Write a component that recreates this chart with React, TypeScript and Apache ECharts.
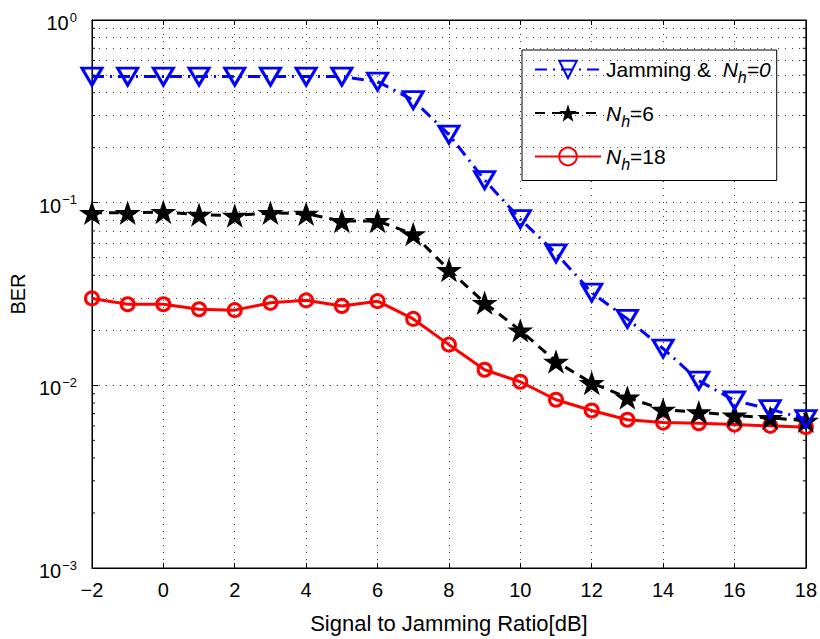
import React, { useEffect, useRef } from "react";
import * as echarts from "echarts";

const sjr = [-2, -1, 0, 1, 2, 3, 4, 5, 6, 7, 8, 9, 10, 11, 12, 13, 14, 15, 16, 17, 18];
const berJam = [0.49, 0.49, 0.49, 0.49, 0.49, 0.49, 0.49, 0.49, 0.46, 0.364, 0.236, 0.133, 0.0813, 0.0528, 0.0322, 0.0231, 0.0159, 0.0106, 0.00826, 0.0074, 0.00654];
const berN6 = [0.088, 0.088, 0.089, 0.086, 0.085, 0.088, 0.087, 0.0794, 0.0794, 0.0673, 0.0428, 0.0283, 0.02, 0.0135, 0.0103, 0.00858, 0.00737, 0.00713, 0.00684, 0.00664, 0.0064];
const berN18 = [0.0299, 0.0278, 0.0278, 0.0261, 0.0258, 0.0283, 0.0292, 0.0272, 0.0289, 0.0231, 0.0167, 0.01217, 0.01046, 0.00834, 0.00728, 0.00648, 0.00625, 0.0062, 0.0061, 0.006, 0.0059];
const minorGrid = [0.002, 0.003, 0.004, 0.005, 0.006, 0.007, 0.008, 0.009, 0.02, 0.03, 0.04, 0.05, 0.06, 0.07, 0.08, 0.09, 0.2, 0.3, 0.4, 0.5, 0.6, 0.7, 0.8, 0.9];
const names = ["Jamming & N_h=0", "N_h=6", "N_h=18"];
const legendText: Record<string, string> = {
  "Jamming & N_h=0": "Jamming &  {i|N}{sub|h}{i|=0}",
  "N_h=6": "{i|N}{sub|h}=6",
  "N_h=18": "{i|N}{sub|h}=18",
};

const STAR = "path://M50,0 L61.8,35.1 L98.9,35.1 L68.9,56.9 L80.3,91.9 L50,70.2 L19.7,91.9 L31.1,56.9 L1.1,35.1 L38.2,35.1 Z";
const FONT = "Liberation Sans, Arial, Helvetica, sans-serif";
const X_MIN = -2;
const X_MAX = 18;

export default function App() {
  const ref = useRef<HTMLDivElement>(null);
  useEffect(() => {
    const chart = echarts.init(ref.current!, null, { renderer: "svg" });
    const pair = (ys: number[]) => sjr.map((x, i) => [x, ys[i]]);
    const supFmt = (v: number) => {
      const e = Math.round(Math.log10(v));
      return `{b|10}{sup|${String(e).replace("-", "\u2212")}}`;
    };
    const gridDots = { color: "#333", type: [1, 6], width: 1 };
    chart.setOption({
      animation: false,
      backgroundColor: "#fff",
      textStyle: { fontFamily: FONT },
      grid: { left: 91, right: 14, top: 20, bottom: 60, show: true, borderColor: "#000", borderWidth: 1, backgroundColor: "#fff" },
      legend: {
        orient: "vertical",
        left: 522,
        top: 50,
        data: names,
        backgroundColor: "#fff",
        borderColor: "#000",
        borderWidth: 1,
        borderRadius: 0,
        padding: [9, 6, 8, 12],
        itemWidth: 66,
        itemHeight: 22,
        itemGap: 17,
        formatter: (n: string) => legendText[n],
        textStyle: {
          fontFamily: FONT,
          fontSize: 21,
          color: "#000",
          rich: {
            i: { fontStyle: "italic", fontSize: 21, fontFamily: FONT },
            sub: { fontStyle: "italic", fontSize: 16, fontFamily: FONT, padding: [16, 0, 0, 0] },
          },
        },
      },
      xAxis: [
        {
          type: "value",
          min: X_MIN,
          max: X_MAX,
          interval: 2,
          name: "Signal to Jamming Ratio[dB]",
          nameLocation: "middle",
          nameGap: 44,
          nameTextStyle: { fontSize: 22, color: "#000", fontFamily: FONT },
          axisLine: { show: true, onZero: false, lineStyle: { color: "#000", width: 1 } },
          axisTick: { inside: true, length: 5, lineStyle: { color: "#000" } },
          axisLabel: {
            fontSize: 20,
            color: "#000",
            margin: 12,
            fontFamily: FONT,
            formatter: (v: number) => String(v).replace("-", "\u2212"),
          },
          splitLine: { show: true, lineStyle: gridDots },
        },
        {
          type: "value",
          position: "top",
          min: X_MIN,
          max: X_MAX,
          interval: 2,
          axisLine: { show: true, onZero: false, lineStyle: { color: "#000" } },
          axisTick: { inside: true, length: 5, lineStyle: { color: "#000" } },
          axisLabel: { show: false },
          splitLine: { show: false },
        },
      ],
      yAxis: [
        {
          type: "log",
          logBase: 10,
          min: 0.001,
          max: 1,
          name: "BER",
          nameLocation: "middle",
          nameGap: 63,
          nameTextStyle: { fontSize: 20, color: "#000", fontFamily: FONT },
          axisLine: { show: true, onZero: false, lineStyle: { color: "#000" } },
          axisTick: { inside: true, length: 6, lineStyle: { color: "#000" } },
          axisLabel: {
            color: "#000",
            margin: 15,
            fontFamily: FONT,
            formatter: supFmt,
            rich: {
              b: { fontSize: 20, fontFamily: FONT, color: "#000", padding: [6, 0, 0, 0] },
              sup: { fontSize: 13, padding: [0, 0, 6, 1], fontFamily: FONT, color: "#000" },
            },
          },
          splitLine: { show: true, lineStyle: gridDots },
        },
        {
          type: "log",
          logBase: 10,
          min: 0.001,
          max: 1,
          position: "right",
          axisLine: { show: true, onZero: false, lineStyle: { color: "#000" } },
          axisTick: { inside: true, length: 6, lineStyle: { color: "#000" } },
          axisLabel: { show: false },
          splitLine: { show: false },
        },
      ],
      series: [
        {
          name: "minor",
          type: "line",
          data: [],
          silent: true,
          z: 1,
          markLine: {
            silent: true,
            symbol: "none",
            label: { show: false },
            lineStyle: gridDots,
            data: minorGrid.map((v) => ({ yAxis: v })),
          },
        },
        {
          name: "minorTicks",
          type: "custom",
          silent: true,
          z: 1,
          data: minorGrid.map((v) => [X_MIN, v]),
          renderItem: (_p: any, api: any) => {
            const v = api.value(1);
            const l = api.coord([X_MIN, v]);
            const r = api.coord([X_MAX, v]);
            const st = { stroke: "#000", lineWidth: 1 };
            return {
              type: "group",
              children: [
                { type: "line", shape: { x1: l[0], y1: l[1], x2: l[0] + 3, y2: l[1] }, style: st },
                { type: "line", shape: { x1: r[0] - 3, y1: r[1], x2: r[0], y2: r[1] }, style: st },
              ],
            };
          },
        },
        {
          name: names[0],
          type: "line",
          data: pair(berJam),
          z: 4,
          symbol: "triangle",
          symbolRotate: 180,
          symbolSize: [20, 17],
          showAllSymbol: true,
          lineStyle: { color: "#0000ff", width: 3, type: [12, 6, 2, 6] },
          itemStyle: { color: "rgba(255,255,255,0)", borderColor: "#0000ff", borderWidth: 3 },
        },
        {
          name: names[1],
          type: "line",
          data: pair(berN6),
          z: 3,
          symbol: STAR,
          symbolSize: 26,
          symbolKeepAspect: true,
          showAllSymbol: true,
          lineStyle: { color: "#000", width: 3, type: [10, 7] },
          itemStyle: { color: "#000", borderColor: "#000", borderWidth: 0 },
        },
        {
          name: names[2],
          type: "line",
          data: pair(berN18),
          z: 2,
          symbol: "circle",
          symbolSize: 13,
          showAllSymbol: true,
          lineStyle: { color: "#ff0000", width: 3, type: "solid" },
          itemStyle: { color: "rgba(255,255,255,0)", borderColor: "#ff0000", borderWidth: 3 },
        },
      ],
    });
    return () => chart.dispose();
  }, []);
  return <div ref={ref} style={{ width: 820, height: 639, position: "absolute", left: 0, top: 0 }} />;
}
